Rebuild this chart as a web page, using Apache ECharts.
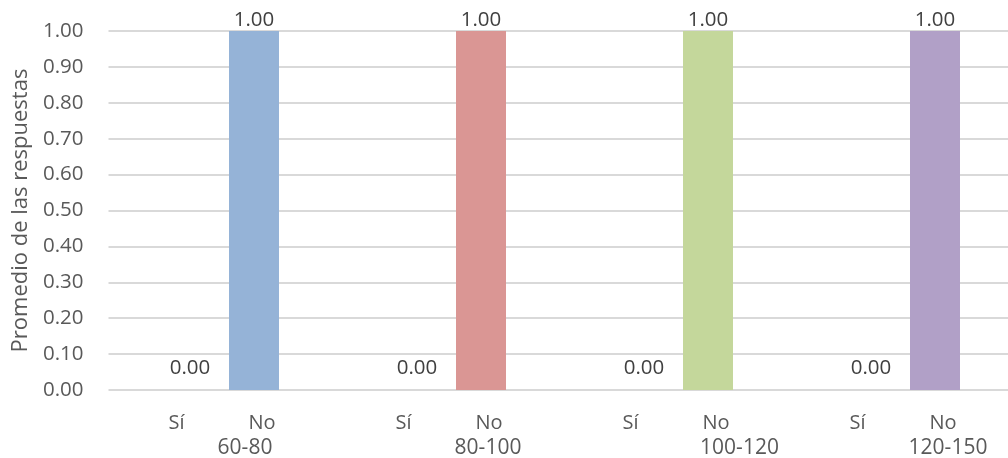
<!DOCTYPE html>
<html>
<head>
<meta charset="utf-8">
<script src="https://cdn.jsdelivr.net/npm/echarts@6/dist/echarts.min.js"></script>
<style>
  html, body { margin: 0; padding: 0; background: #ffffff; }
  #chart { width: 1008px; height: 458px; }
</style>
</head>
<body>
<div id="chart"></div>
<script>
// Weight groups and answer options
const groups = ['60-80', '80-100', '100-120', '120-150'];
const answers = ['Sí', 'No'];

// Average of responses per group
const siValues = [0.00, 0.00, 0.00, 0.00];
const noValues = [1.00, 1.00, 1.00, 1.00];

// Colour of each group's bar
const groupColors = ['#95B3D7', '#DA9694', '#C4D79B', '#B1A0C7'];

// Y axis ticks
const yTicks = [0, 0.1, 0.2, 0.3, 0.4, 0.5, 0.6, 0.7, 0.8, 0.9, 1.0];

const FONT = 'Open Sans';
const TEXT = '#595959';

// horizontal shift of each group label under its pair of bars
const groupShift = [46, 78, 127, 90];

const chart = echarts.init(document.getElementById('chart'), null, { renderer: 'canvas' });

const richLabels = {
  s: { fontFamily: FONT, fontSize: 20, color: TEXT, padding: [0, 64, 0, 0], lineHeight: 25 },
  n: { fontFamily: FONT, fontSize: 20, color: TEXT, lineHeight: 25 }
};
groupShift.forEach((p, i) => {
  richLabels['g' + i] = { fontFamily: FONT, fontSize: 21, color: TEXT, padding: [0, 0, 0, p], lineHeight: 25 };
});

const option = {
  animation: false,
  backgroundColor: '#ffffff',
  grid: {
    left: 108.5, top: 31, width: 908, height: 359,
    containLabel: false, outerBoundsMode: 'none'
  },
  xAxis: {
    type: 'category',
    data: groups,
    axisLine: { show: false },
    axisTick: { show: false },
    axisLabel: {
      margin: 21,
      interval: 0,
      formatter: function (val, idx) {
        return '{s|' + answers[0] + '}{n|' + answers[1] + '}\n{g' + idx + '|' + val + '}';
      },
      rich: richLabels
    }
  },
  yAxis: {
    type: 'value',
    min: yTicks[0],
    max: yTicks[yTicks.length - 1],
    interval: 0.1,
    name: 'Promedio de las respuestas',
    nameLocation: 'middle',
    nameGap: 76,
    nameTextStyle: { fontFamily: FONT, fontSize: 22, color: TEXT },
    axisLine: { show: false },
    axisTick: { show: false },
    splitLine: { lineStyle: { color: '#D9D9D9', width: 2 } },
    axisLabel: {
      margin: 25,
      fontFamily: FONT, fontSize: 20.5, color: TEXT,
      formatter: v => v.toFixed(2)
    }
  },
  series: [
    {
      name: answers[0],
      type: 'bar',
      barWidth: 50,
      barGap: '28%',
      data: siValues.map((v, i) => ({ value: v, itemStyle: { color: groupColors[i] } })),
      label: {
        show: true, position: 'top', distance: 11,
        fontFamily: FONT, fontSize: 20.5, color: '#404040',
        formatter: p => p.value.toFixed(2)
      }
    },
    {
      name: answers[1],
      type: 'bar',
      barWidth: 50,
      barGap: '28%',
      data: noValues.map((v, i) => ({ value: v, itemStyle: { color: groupColors[i] } })),
      label: {
        show: true, position: 'top', distance: 0,
        fontFamily: FONT, fontSize: 20.5, color: '#404040',
        formatter: p => p.value.toFixed(2)
      }
    }
  ]
};

chart.setOption(option);
</script>
</body>
</html>
